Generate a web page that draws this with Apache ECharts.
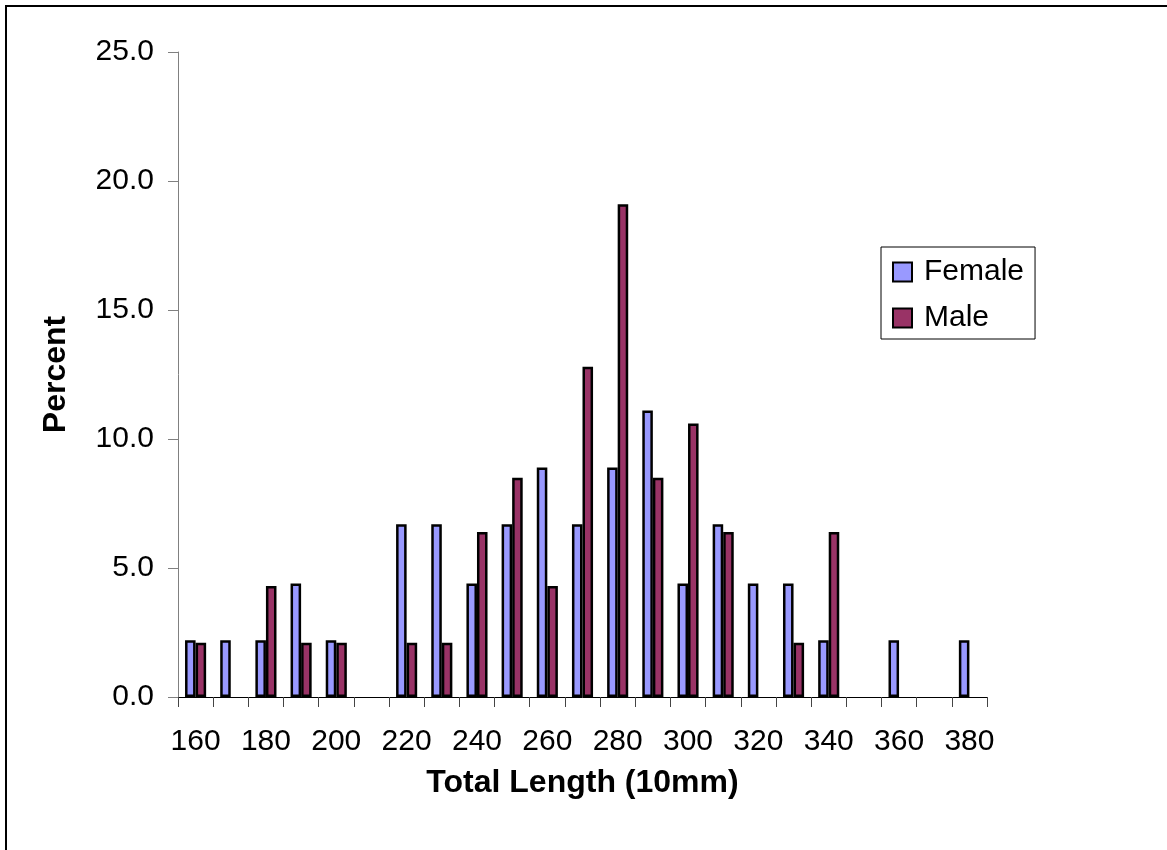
<!DOCTYPE html>
<html>
<head>
<meta charset="utf-8">
<script src="https://cdn.jsdelivr.net/npm/echarts@6/dist/echarts.min.js"></script>
<style>
  html, body { margin: 0; padding: 0; background: #fff; }
  #chart { width: 1167px; height: 850px; }
</style>
</head>
<body>
<div id="chart"></div>
<script>
// Length classes (10 mm) and percent of fish in each class
const lengthClasses = ['160','170','180','190','200','210','220','230','240','250','260','270',
                       '280','290','300','310','320','330','340','350','360','370','380'];
const femalePct = [2.2, 2.2, 2.2, 4.4, 2.2, 0, 6.7, 6.7, 4.4, 6.7, 8.9, 6.7,
                   8.9, 11.1, 4.4, 6.7, 4.4, 4.4, 2.2, 0, 2.2, 0, 2.2];
const malePct   = [2.1, 0, 4.3, 2.1, 2.1, 0, 2.1, 2.1, 6.4, 8.5, 4.3, 12.8,
                   19.1, 8.5, 10.6, 6.4, 0, 2.1, 6.4, 0, 0, 0, 0];
const seriesNames = ['Female', 'Male'];

const FONT = 'Liberation Sans, Arial, sans-serif';

// empty classes get no bar at all (a zero-height bar would still draw its outline)
const asBars = arr => arr.map(v => (v === 0 ? '-' : v));

const chart = echarts.init(document.getElementById('chart'), null, { renderer: 'canvas' });

chart.setOption({
  backgroundColor: '#ffffff',
  animation: false,
  textStyle: { fontFamily: FONT, color: '#000' },
  graphic: [{
    type: 'rect',
    shape: { x: 6, y: 6, width: 1300, height: 1000 },
    style: { fill: 'none', stroke: '#000', lineWidth: 2 },
    silent: true
  }],
  grid: { left: 178, right: 180, top: 52, bottom: 153, containLabel: false },
  legend: {
    data: seriesNames,
    orient: 'vertical',
    left: 881,
    top: 247,
    padding: [10, 11, 6, 11],
    itemGap: 16,
    itemWidth: 19,
    itemHeight: 19,
    icon: 'rect',
    borderColor: '#000',
    borderWidth: 1,
    backgroundColor: '#fff',
    itemStyle: { borderColor: '#000', borderWidth: 2 },
    textStyle: { fontFamily: FONT, fontSize: 30, color: '#000', padding: [0, 0, 0, 7] }
  },
  xAxis: {
    type: 'category',
    data: lengthClasses,
    boundaryGap: true,
    name: 'Total Length (10mm)',
    nameLocation: 'middle',
    nameGap: 70,
    nameTextStyle: { fontFamily: FONT, fontSize: 32, fontWeight: 'bold', color: '#000' },
    axisLine: { show: true, lineStyle: { color: '#000', width: 1 } },
    axisTick: { show: true, interval: 0, alignWithLabel: false, length: 10, lineStyle: { color: '#444' } },
    axisLabel: { interval: 1, margin: 30, fontFamily: FONT, fontSize: 30, color: '#000' },
    splitLine: { show: false }
  },
  yAxis: {
    type: 'value',
    min: 0,
    max: 25,
    interval: 5,
    name: 'Percent',
    nameLocation: 'middle',
    nameRotate: 90,
    nameGap: 106,
    nameTextStyle: { fontFamily: FONT, fontSize: 32, fontWeight: 'bold', color: '#000' },
    axisLine: { show: true, lineStyle: { color: '#808080', width: 1 } },
    axisTick: { show: true, length: 10, lineStyle: { color: '#808080' } },
    axisLabel: { margin: 24, fontFamily: FONT, fontSize: 30, color: '#000',
                 formatter: v => v.toFixed(1) },
    splitLine: { show: false }
  },
  series: [
    {
      name: seriesNames[0],
      type: 'bar',
      data: asBars(femalePct),
      barGap: '0%',
      barCategoryGap: '40%',
      itemStyle: { color: '#9999FF', borderColor: '#000', borderWidth: 2.5 }
    },
    {
      name: seriesNames[1],
      type: 'bar',
      data: asBars(malePct),
      barGap: '0%',
      barCategoryGap: '40%',
      itemStyle: { color: '#993366', borderColor: '#000', borderWidth: 2.5 }
    }
  ]
});
</script>
</body>
</html>
